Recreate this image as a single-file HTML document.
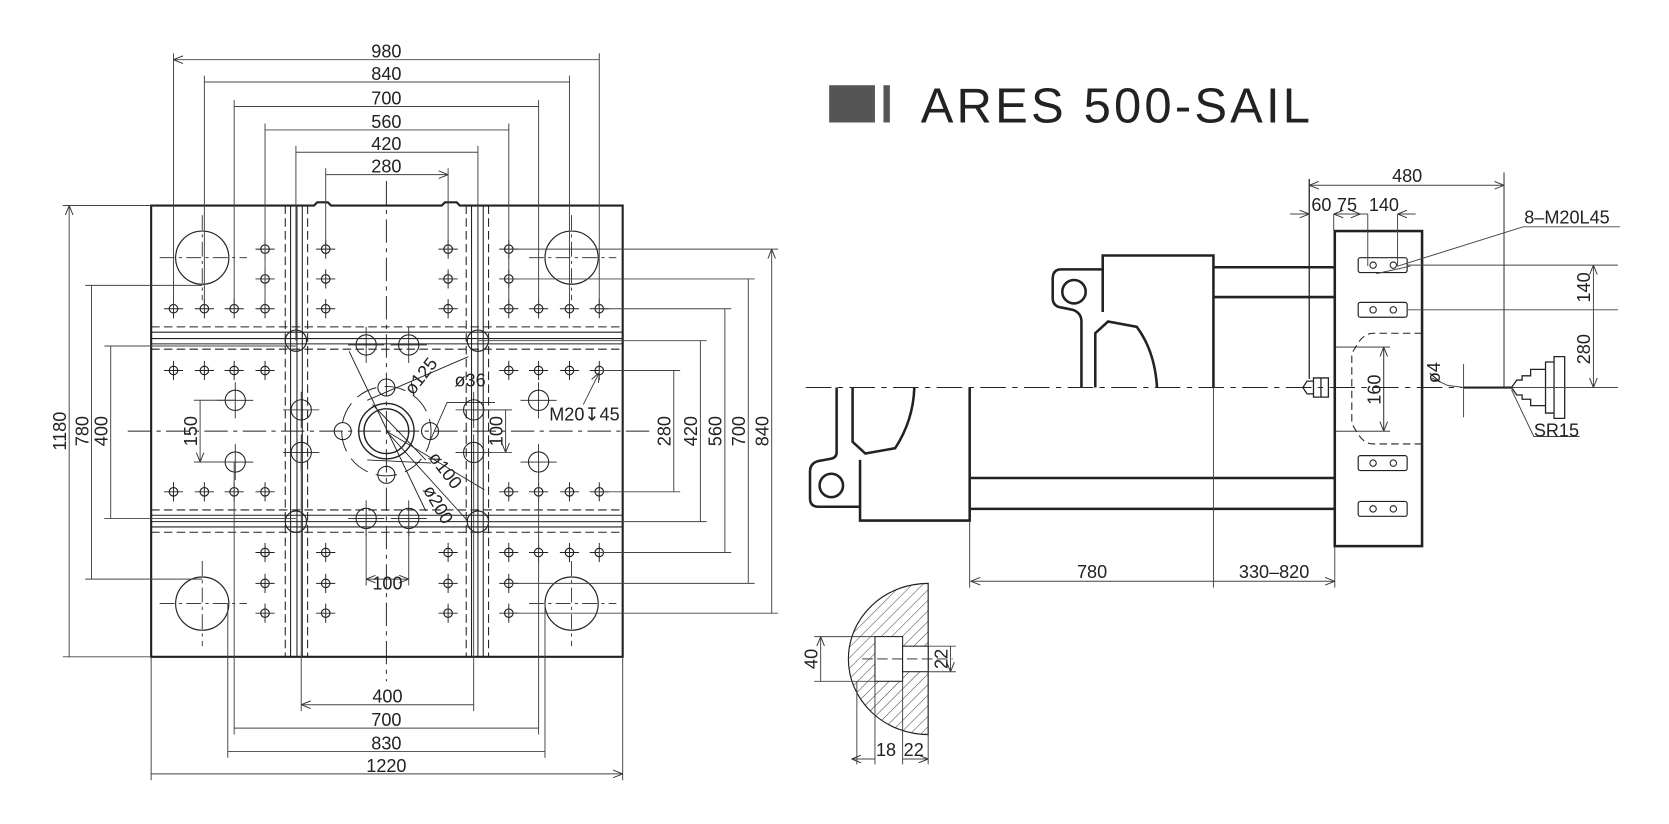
<!DOCTYPE html>
<html><head><meta charset="utf-8"><style>
html,body{margin:0;padding:0;background:#fff}
svg{display:block}
text{font-family:"Liberation Sans Narrow","Liberation Sans",sans-serif;fill:#222}
</style></head><body>
<svg width="1669" height="824" viewBox="0 0 1568 774" xmlns="http://www.w3.org/2000/svg">
<defs>
<marker id="a" viewBox="0 0 10 10" refX="10" refY="5" markerWidth="9" markerHeight="9" orient="auto-start-reverse" markerUnits="userSpaceOnUse"><path d="M0,1 L10,5 L0,9" fill="none" stroke="#333" stroke-width="1"/></marker>
<g id="h"><circle r="4" fill="none" stroke="#222" stroke-width="1.1"/><path d="M-9,0H9M0,-9V9" stroke="#222" stroke-width="0.9"/></g>
<g id="m"><circle r="9.5" fill="none" stroke="#222" stroke-width="1"/><path d="M-17,0H17M0,-17V17" stroke="#222" stroke-width="0.8"/></g>
<g id="s"><rect x="-23" y="-7" width="46" height="14" rx="2" fill="none" stroke="#222" stroke-width="1.1"/><circle cx="-9" r="3" fill="none" stroke="#222"/><circle cx="10" r="3" fill="none" stroke="#222"/></g>
<pattern id="hp" width="7" height="7" patternUnits="userSpaceOnUse" patternTransform="rotate(45)"><line x1="0" y1="0" x2="0" y2="7" stroke="#333" stroke-width="0.9"/></pattern>
</defs>

<g fill="none" stroke="#222">
<path d="M142,193 H295 l3,-3 h10 l3,3 H415 l3,-3 h11 l3,3 H585 V617 H142 Z" stroke-width="2"/>
<g stroke-width="1"><path d="M273,193V617M279,193V617M284,193V617M443,193V617M449,193V617M454,193V617"/>
<path d="M268,193V617M289,193V617M438,193V617M459,193V617" stroke-dasharray="8,4"/>
<path d="M142,312H585M142,318H585M142,323H585M142,484H585M142,490H585M142,495H585"/>
<path d="M142,307H585M142,328H585M142,479H585M142,500H585" stroke-dasharray="8,4"/></g>
<path d="M363,170V640M120,405H610" stroke-width="0.9" stroke-dasharray="22,5,4,5"/>
<g stroke-width="1.1"><circle cx="190" cy="242" r="25"/><circle cx="537" cy="242" r="25"/><circle cx="190" cy="567" r="25"/><circle cx="537" cy="567" r="25"/></g>
<path d="M150,242H232M190,202V282M497,242H579M537,202V282M150,567H232M190,527V607M497,567H579M537,527V607" stroke-width="0.8" stroke-dasharray="14,4,3,4"/>
<g stroke-width="1.1"><circle cx="278" cy="320" r="10"/><circle cx="449" cy="320" r="10"/><circle cx="278" cy="490" r="10"/><circle cx="449" cy="490" r="10"/></g>
<circle cx="363" cy="405" r="26" stroke-width="1.3"/><circle cx="363" cy="405" r="21" stroke-width="1.3"/>
<circle cx="363" cy="405" r="42" stroke-width="0.9" stroke-dasharray="20,8"/>
<g stroke-width="1"><circle cx="363" cy="364" r="8"/><circle cx="363" cy="446" r="8"/><circle cx="322" cy="405" r="8"/><circle cx="404" cy="405" r="8"/></g>
<path d="M345,376 L440,335 M328,330 L400,480 M350,380 L400,432" stroke-width="0.9"/>
<path d="M405,412 L420,378 H465 M345,432 L405,435" stroke-width="0.8"/>
<path d="M363,405 L455,460 M363,405 L440,490" stroke-width="0.8"/>
</g>
<use href="#m" x="344" y="324"/><use href="#m" x="384" y="324"/><use href="#m" x="344" y="487"/><use href="#m" x="384" y="487"/>
<use href="#m" x="221" y="376"/><use href="#m" x="221" y="434"/><use href="#m" x="283" y="385"/><use href="#m" x="283" y="425"/>
<use href="#m" x="445" y="385"/><use href="#m" x="445" y="425"/><use href="#m" x="506" y="376"/><use href="#m" x="506" y="434"/>
<g>
<use href="#h" x="249" y="234"/><use href="#h" x="306" y="234"/><use href="#h" x="421" y="234"/><use href="#h" x="478" y="234"/>
<use href="#h" x="249" y="262"/><use href="#h" x="306" y="262"/><use href="#h" x="421" y="262"/><use href="#h" x="478" y="262"/>
<use href="#h" x="163" y="290"/><use href="#h" x="192" y="290"/><use href="#h" x="220" y="290"/><use href="#h" x="249" y="290"/><use href="#h" x="306" y="290"/><use href="#h" x="421" y="290"/><use href="#h" x="478" y="290"/><use href="#h" x="506" y="290"/><use href="#h" x="535" y="290"/><use href="#h" x="563" y="290"/>
<use href="#h" x="163" y="348"/><use href="#h" x="192" y="348"/><use href="#h" x="220" y="348"/><use href="#h" x="249" y="348"/><use href="#h" x="478" y="348"/><use href="#h" x="506" y="348"/><use href="#h" x="535" y="348"/><use href="#h" x="563" y="348"/>
<use href="#h" x="163" y="462"/><use href="#h" x="192" y="462"/><use href="#h" x="220" y="462"/><use href="#h" x="249" y="462"/><use href="#h" x="478" y="462"/><use href="#h" x="506" y="462"/><use href="#h" x="535" y="462"/><use href="#h" x="563" y="462"/>
<use href="#h" x="249" y="519"/><use href="#h" x="306" y="519"/><use href="#h" x="421" y="519"/><use href="#h" x="478" y="519"/><use href="#h" x="506" y="519"/><use href="#h" x="535" y="519"/><use href="#h" x="563" y="519"/>
<use href="#h" x="249" y="548"/><use href="#h" x="306" y="548"/><use href="#h" x="421" y="548"/><use href="#h" x="478" y="548"/>
<use href="#h" x="249" y="576"/><use href="#h" x="306" y="576"/><use href="#h" x="421" y="576"/><use href="#h" x="478" y="576"/>
</g>

<g stroke="#444" stroke-width="0.9" fill="none">
<path d="M163,50V290M192,71V290M220,94V290M249,116V290M278,137V320M306,158V234M421,158V234M449,137V320M478,116V290M506,94V290M535,71V290M563,50V290"/>
<path d="M163,56H563M192,77H535M220,100H506M249,122H478M278,143H449M306,164H421" marker-start="url(#a)" marker-end="url(#a)"/>
<path d="M283,425V668M445,425V668M220,434V690M506,434V690M214,567V712M512,567V712M142,617V733M585,617V733"/>
<path d="M283,662H445M220,684H506M214,706H512M142,727H585" marker-start="url(#a)" marker-end="url(#a)"/>
<path d="M344,487V550M384,487V550"/><path d="M344,544H384" marker-start="url(#a)" marker-end="url(#a)"/>
<path d="M59,193H142M59,617H142M80,268H190M80,544H190M98,325H278M98,487H278M182,376H221M182,434H221"/>
<path d="M65,193V617M86,268V544M104,325V487M188,376V434" marker-start="url(#a)" marker-end="url(#a)"/>
<path d="M478,234H731M478,262H709M563,290H687M449,320H664M563,348H639M563,462H639M449,490H664M563,519H687M478,548H709M478,576H731M445,385H481M445,425H481"/>
<path d="M725,234V576M703,262V548M681,290V519M658,320V490M633,348V462M475,385V425" marker-start="url(#a)" marker-end="url(#a)"/>
<path d="M548,380 L563,350" marker-end="url(#a)"/>
</g>
<g font-size="17">
<text x="363" y="54" text-anchor="middle">980</text>
<text x="363" y="75" text-anchor="middle">840</text>
<text x="363" y="98" text-anchor="middle">700</text>
<text x="363" y="120" text-anchor="middle">560</text>
<text x="363" y="141" text-anchor="middle">420</text>
<text x="363" y="162" text-anchor="middle">280</text>
<text x="364" y="660" text-anchor="middle">400</text>
<text x="363" y="682" text-anchor="middle">700</text>
<text x="363" y="704" text-anchor="middle">830</text>
<text x="363" y="725" text-anchor="middle">1220</text>
<text x="364" y="554" text-anchor="middle">100</text>
<text transform="translate(62,405) rotate(-90)" text-anchor="middle">1180</text>
<text transform="translate(83,405) rotate(-90)" text-anchor="middle">780</text>
<text transform="translate(101,405) rotate(-90)" text-anchor="middle">400</text>
<text transform="translate(185,405) rotate(-90)" text-anchor="middle">150</text>
<text transform="translate(722,405) rotate(-90)" text-anchor="middle">840</text>
<text transform="translate(700,405) rotate(-90)" text-anchor="middle">700</text>
<text transform="translate(678,405) rotate(-90)" text-anchor="middle">560</text>
<text transform="translate(655,405) rotate(-90)" text-anchor="middle">420</text>
<text transform="translate(630,405) rotate(-90)" text-anchor="middle">280</text>
<text transform="translate(472,405) rotate(-90)" text-anchor="middle">100</text>
<text x="516" y="395">M20↧45</text>
<text x="427" y="363">ø36</text>
<text transform="translate(388,372) rotate(-52)">ø125</text>
<text transform="translate(402,430) rotate(52)">ø100</text>
<text transform="translate(397,460) rotate(60)">ø200</text>
</g>

<rect x="779" y="80" width="43" height="35" fill="#555"/>
<rect x="830" y="80" width="6" height="35" fill="#555"/>
<text x="865" y="115" font-size="46" style="font-family:'Liberation Sans',sans-serif;letter-spacing:3px" fill="#333">ARES 500-SAIL</text>

<g fill="none" stroke="#222">
<path d="M757,364H1420" stroke-width="1" stroke-dasharray="24,6,5,6"/>
<path d="M1036,293V240H1140V364" stroke-width="2.4"/>
<path d="M1036,253H997Q989,253 989,262V280Q989,288 998,289L1008,291Q1016,294 1016,302V364" stroke-width="2.4"/>
<circle cx="1009" cy="274" r="11" stroke-width="2.4"/>
<path d="M1029,364V313L1041,302L1068,307Q1085,330 1087,364" stroke-width="2.4"/>
<path d="M1140,251H1254M1140,279H1254" stroke-width="2.4"/>
<path d="M911,364V489H808V432" stroke-width="2.4"/>
<path d="M786,364V425Q786,430 780,431L769,433Q761,435 761,443V468Q761,476 769,476H808" stroke-width="2.4"/>
<circle cx="781" cy="456" r="11" stroke-width="2.4"/>
<path d="M801,364V415L813,426L841,421Q858,395 859,364" stroke-width="2.4"/>
<path d="M911,449H1254M911,478H1254" stroke-width="2.4"/>
<path d="M911,489V552M1140,364V552M1254,513V552" stroke-width="0.9" stroke="#444"/>
<rect x="1254" y="217" width="82" height="296" stroke-width="2.4"/>
<path d="M1336,313H1290Q1282,313 1276,322L1270,332V398L1276,408Q1282,417 1290,417H1336" stroke-width="1" stroke-dasharray="7,4"/>
<path d="M1254,326H1306M1254,405H1306" stroke-width="0.8"/>
<path d="M1300,326V405" stroke-width="0.9" marker-start="url(#a)" marker-end="url(#a)"/>
<path d="M1230,168V356" stroke-width="1.2"/>
<path d="M1224,364 l4,-6 h6 v-3 h14 v18 h-14 v-3 h-6z M1234,358v12M1241,355v18" stroke-width="1.2"/>
<path d="M1413,162V364" stroke-width="0.9"/>
<path d="M1420,364 l5,-7 h5 v-4 h8 v-6 h14 v-7 h8 v-5 h10 v58 h-10 v-5 h-8 v-7 h-14 v-6 h-8 v-4 h-5z M1452,347v34M1460,340v48" stroke-width="1.2"/>
<path d="M1375,364H1420" stroke-width="2"/>
</g>
<use href="#s" x="1299" y="249"/><use href="#s" x="1299" y="291"/><use href="#s" x="1299" y="435"/><use href="#s" x="1299" y="478"/>
<g stroke="#444" stroke-width="0.9" fill="none">
<path d="M1230,174H1413" marker-start="url(#a)" marker-end="url(#a)"/>
<path d="M1212,201H1230M1253,201H1285M1313,201H1330" />
<path d="M1218,201H1230" marker-end="url(#a)"/><path d="M1253,201H1278" marker-start="url(#a)" marker-end="url(#a)"/><path d="M1325,201H1313" marker-end="url(#a)"/>
<path d="M1253,201V217M1285,201V250M1313,201V250"/>
<path d="M1431,213H1522M1431,213L1313,250M1293,257L1325,250"/>
<path d="M1322,249H1520M1322,291H1520M1420,364H1520"/>
<path d="M1497,249V291M1497,291V364" marker-start="url(#a)" marker-end="url(#a)"/>
<path d="M1375,342V392M1345,355L1360,362L1375,364"/>
<path d="M1420,366L1441,410H1484"/>
<path d="M912,546H1140M1140,546H1254" marker-start="url(#a)" marker-end="url(#a)"/>
</g>
<g font-size="17">
<text x="1322" y="171" text-anchor="middle">480</text>
<text x="1232" y="198">60</text><text x="1256" y="198">75</text><text x="1286" y="198">140</text>
<text x="1432" y="210">8–M20L45</text>
<text transform="translate(1494,270) rotate(-90)" text-anchor="middle">140</text>
<text transform="translate(1494,328) rotate(-90)" text-anchor="middle">280</text>
<text transform="translate(1297,366) rotate(-90)" text-anchor="middle">160</text>
<text transform="translate(1353,350) rotate(-90)" text-anchor="middle">ø4</text>
<text x="1441" y="410">SR15</text>
<text x="1026" y="543" text-anchor="middle">780</text>
<text x="1197" y="543" text-anchor="middle">330–820</text>
</g>

<g stroke="#222" fill="none">
<path d="M872,548 A75,71 0 0 0 872,690 Z" fill="url(#hp)" stroke-width="1.1"/>
<rect x="822" y="598" width="26" height="42" fill="#fff" stroke-width="1"/>
<rect x="848" y="607" width="24" height="24" fill="#fff" stroke-width="1"/>
<path d="M810,619H895" stroke-width="0.8" stroke-dasharray="10,4"/>
<g stroke="#444" stroke-width="0.9">
<path d="M765,598H822M765,640H822M872,607H898M872,631H898M805,640V718M822,640V718M848,640V718M872,690V718"/>
<path d="M771,598V640M893,607V631" marker-start="url(#a)" marker-end="url(#a)"/>
<path d="M800,713H822M848,713H872" marker-start="url(#a)" marker-end="url(#a)"/>
</g>
</g>
<g font-size="17">
<text transform="translate(768,619) rotate(-90)" text-anchor="middle">40</text>
<text transform="translate(890,619) rotate(-90)" text-anchor="middle">22</text>
<text x="823" y="710">18</text><text x="849" y="710">22</text>
</g>
</svg>
</body></html>
